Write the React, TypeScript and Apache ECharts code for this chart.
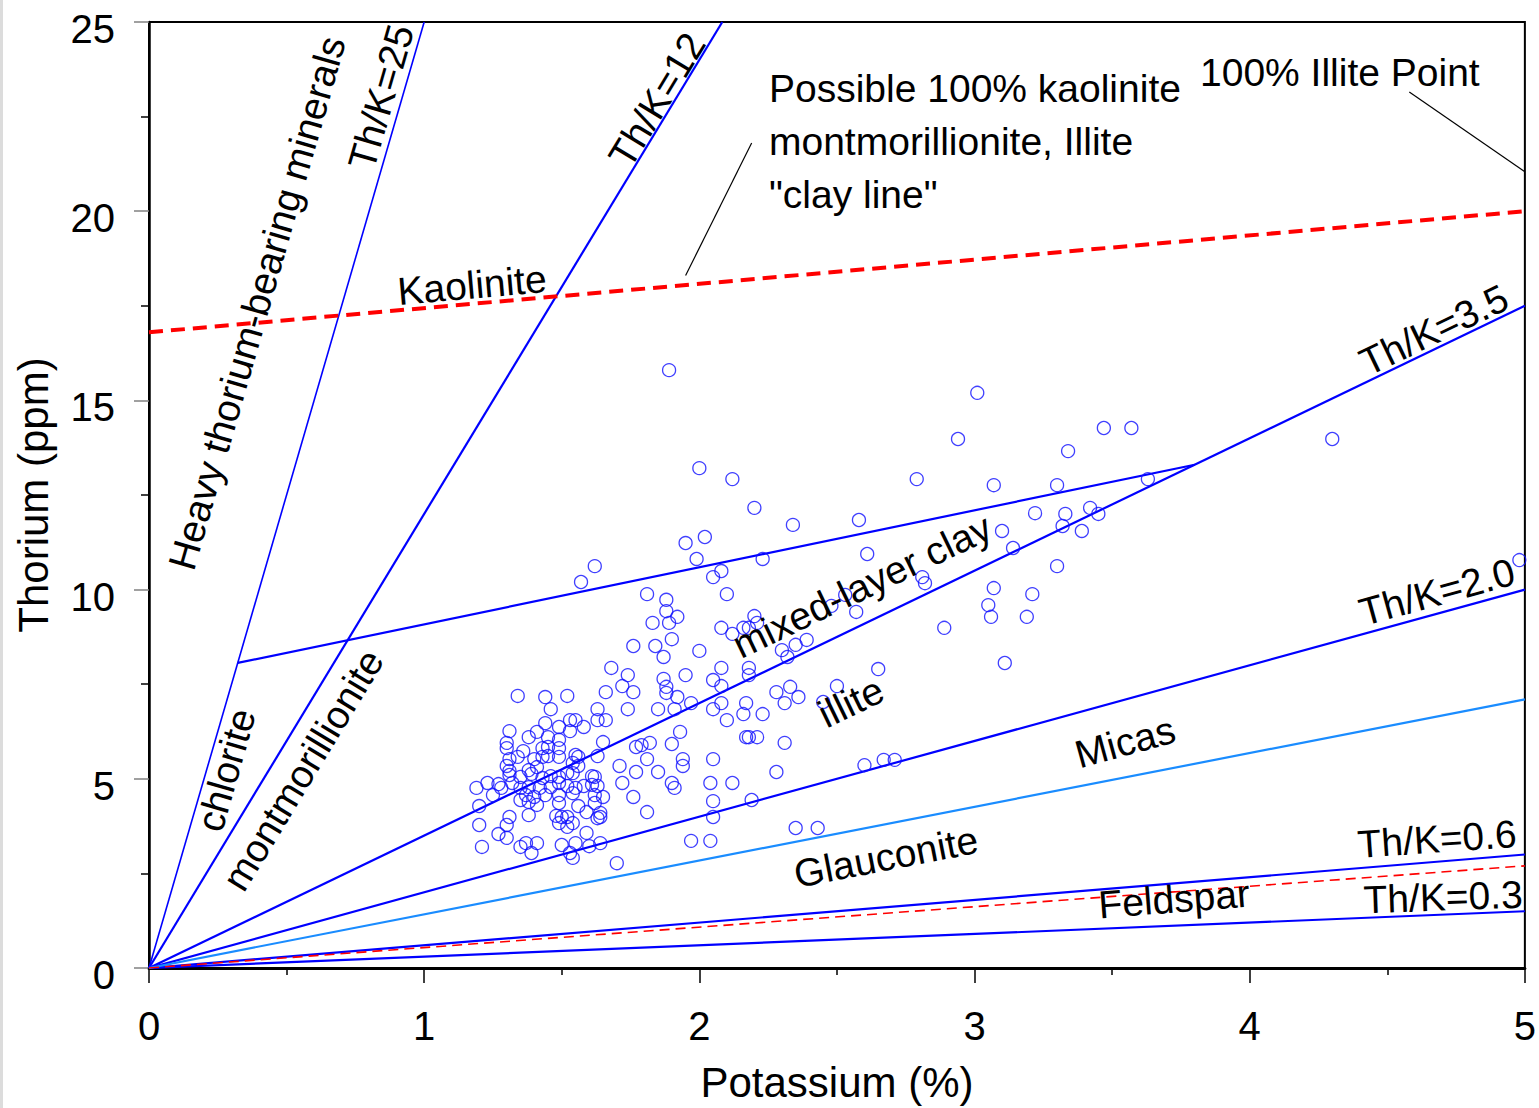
import React, { useEffect, useRef } from "react";
import * as echarts from "echarts";

// Sample measurements: potassium (%) and thorium (ppm)
const potassium: number[] = [
  1.34, 1.44, 1.52, 1.66, 1.72, 1.76, 1.46, 1.63, 1.74, 1.44, 1.49, 1.53, 1.55, 1.58, 1.63, 1.66,
  1.31, 1.38, 1.41, 1.45, 1.49, 1.53, 1.65, 1.30, 1.30, 1.36, 1.43, 1.45, 1.49, 1.31, 1.34, 1.40,
  1.43, 1.45, 1.49, 1.55, 1.56, 1.63, 1.77, 1.30, 1.31, 1.38, 1.41, 1.54, 1.56, 1.71, 1.31, 1.35,
  1.39, 1.43, 1.46, 1.49, 1.52, 1.54, 1.61, 1.62, 1.77, 1.19, 1.23, 1.27, 1.28, 1.32, 1.35, 1.38,
  1.42, 1.46, 1.49, 1.52, 1.55, 1.58, 1.61, 1.63, 1.72, 1.25, 1.37, 1.40, 1.44, 1.49, 1.54, 1.62,
  1.65, 1.76, 1.20, 1.35, 1.38, 1.41, 1.49, 1.56, 1.62, 1.59, 1.64, 1.38, 1.31, 1.48, 1.50, 1.52,
  1.63, 1.64, 1.20, 1.30, 1.49, 1.52, 1.54, 1.27, 1.30, 1.59, 1.21, 1.37, 1.41, 1.50, 1.55, 1.60,
  1.64, 1.35, 1.39, 1.53, 1.54, 1.70,
  1.62, 1.99, 2.23, 2.05, 2.08, 2.10, 1.57, 1.81, 1.88, 1.88, 1.92, 1.83, 1.89, 2.20, 2.21, 2.08,
  2.12, 2.16, 2.18, 1.76, 1.84, 1.90, 1.87, 2.00, 1.68, 1.74, 1.95, 2.08, 2.18, 2.18, 1.87, 1.88,
  1.88, 1.92, 2.05, 2.08, 1.85, 1.91, 1.97, 2.08, 2.05, 2.17, 2.16, 2.23, 2.10, 2.28, 1.93, 1.79,
  1.82, 1.90, 2.17, 2.18, 2.21, 1.81, 1.94, 1.94, 2.05, 1.85, 2.28, 1.90, 1.91, 2.04, 2.12, 1.81,
  2.05, 2.05, 2.19, 1.97, 2.04,
  2.00, 2.12, 2.20, 2.34, 2.58, 1.95, 2.02, 2.48, 2.53, 2.57, 2.30, 2.32, 2.35, 2.39, 2.33, 2.36,
  2.31, 2.50, 2.45, 2.31, 2.35, 2.43,
  3.01, 2.94, 2.79, 3.07, 3.22, 3.10, 3.14, 2.61, 2.81, 2.82, 3.07, 3.21, 3.05, 3.06, 3.19, 2.89,
  3.11, 2.65, 2.60, 2.67, 2.71,
  3.47, 3.57, 3.34, 3.63, 3.30, 3.33, 3.42, 3.45, 3.32, 3.39, 3.30,
  4.30, 4.98, 1.89,
];

const thorium: number[] = [
  7.19, 7.16, 7.19, 7.29, 7.45, 7.29, 6.84, 6.84, 6.84, 6.47, 6.37, 6.55, 6.55, 6.37, 6.55, 6.55,
  6.26, 6.10, 6.24, 6.10, 6.03, 6.26, 5.97, 5.95, 5.81, 5.73, 5.81, 5.84, 5.81, 5.52, 5.58, 5.52,
  5.58, 5.60, 5.58, 5.63, 5.58, 5.60, 5.84, 5.34, 5.21, 5.23, 5.31, 5.42, 5.34, 5.34, 5.10, 5.05,
  5.13, 5.02, 5.07, 5.05, 5.15, 5.15, 5.07, 5.05, 5.18, 4.76, 4.89, 4.86, 4.76, 4.89, 4.76, 4.78,
  4.76, 4.78, 4.89, 4.81, 4.76, 4.81, 4.84, 4.81, 4.89, 4.57, 4.57, 4.52, 4.57, 4.57, 4.62, 4.57,
  4.52, 4.52, 4.28, 4.44, 4.39, 4.31, 4.36, 4.28, 4.36, 4.12, 4.10, 4.04, 3.99, 4.02, 3.99, 3.99,
  3.96, 3.99, 3.78, 3.78, 3.83, 3.73, 3.83, 3.54, 3.44, 3.57, 3.20, 3.30, 3.30, 3.25, 3.30, 3.22,
  3.30, 3.20, 3.04, 3.04, 2.91, 2.77,
  10.62, 10.81, 10.81, 10.33, 10.49, 9.88, 10.20, 9.88, 9.73, 9.43, 9.28, 9.12, 9.12, 9.30, 9.12, 8.99,
  8.83, 8.99, 8.99, 8.51, 8.51, 8.69, 8.22, 8.38, 7.93, 7.74, 7.74, 7.93, 7.93, 7.74, 7.64, 7.43,
  7.27, 7.16, 7.61, 7.45, 6.84, 6.84, 7.00, 7.00, 6.84, 7.00, 6.71, 6.71, 6.55, 7.29, 6.24, 5.89,
  5.95, 5.92, 6.10, 6.10, 6.10, 5.52, 5.52, 5.34, 5.52, 5.18, 5.18, 4.89, 4.76, 4.89, 4.89, 4.12,
  4.41, 3.99, 4.44, 3.36, 3.36,
  13.21, 12.92, 12.16, 11.71, 11.84, 11.23, 11.39, 9.57, 9.86, 9.41, 8.40, 8.22, 8.54, 8.67, 7.43, 7.16,
  7.00, 7.45, 7.03, 5.95, 3.70, 3.70,
  15.20, 13.98, 12.92, 12.76, 12.02, 11.55, 11.10, 10.94, 10.33, 10.17, 10.04, 9.88, 9.59, 9.28, 9.28, 8.99,
  8.06, 7.90, 5.36, 5.50, 5.50,
  14.27, 14.27, 13.66, 12.92, 12.76, 12.00, 12.16, 12.00, 11.68, 11.55, 10.62,
  13.98, 10.78, 15.80,
];

// Th/K boundary ratios written on the diagram
const ratioValues = [25, 12, 3.5, 2.0, 0.6, 0.3];
// Unlabelled boundaries
const micaGlauconiteRatio = 1.42;
const feldsparRatio = 0.54;
// Kaolinite / montmorillonite / illite "clay line"
const kaoliniteK = [0, 5];
const kaoliniteTh = [16.8, 20.0];
// Upper edge of the mixed-layer clay field: from the Th/K=25 line to the Th/K=3.5 line
const mixedLayerK = [0.3225, 3.8];
// Leader lines
const clayLeaderK = [2.19, 1.95];
const clayLeaderTh = [21.8, 18.3];
const illiteLeaderK = [4.58, 5.0];
const illiteLeaderTh = [23.15, 21.04];

const K_MAX = 5;
const TH_MAX = 25;

const FONT_FAMILY = '"Liberation Sans", Arial, Helvetica, sans-serif';
const LABEL_FONT = `39px ${FONT_FAMILY}`;
const BLUE = "#0000ff";

function ratioLine(r: number): number[][] {
  const kEnd = Math.min(K_MAX, TH_MAX / r);
  return [
    [0, 0],
    [kEnd, r * kEnd],
  ];
}

function lineSeries(data: number[][], color: string, width: number, type: any = "solid", z = 2) {
  return {
    type: "line",
    data,
    symbol: "none",
    silent: true,
    z,
    lineStyle: { color, width, type },
    emphasis: { disabled: true },
  };
}

// Text annotations in screen pixels: centre point and rotation (degrees, counter-clockwise)
const annotations = [
  { text: "Heavy thorium-bearing minerals", x: 257, y: 303, angle: 74 },
  { text: "Th/K=25", x: 381, y: 97, angle: 74 },
  { text: "Th/K=12", x: 657, y: 100, angle: 58.8 },
  { text: "Kaolinite", x: 472, y: 285, angle: 5 },
  { text: "mixed-layer clay", x: 862, y: 586, angle: 25.7 },
  { text: "illite", x: 851, y: 702, angle: 25.7 },
  { text: "Micas", x: 1125, y: 742, angle: 15.4 },
  { text: "Glauconite", x: 886, y: 857, angle: 11 },
  { text: "Feldspar", x: 1174, y: 899, angle: 4.5 },
  { text: "Th/K=3.5", x: 1434, y: 330, angle: 25.7 },
  { text: "Th/K=2.0", x: 1437, y: 592, angle: 15.4 },
  { text: "Th/K=0.6", x: 1437, y: 839, angle: 4 },
  { text: "Th/K=0.3", x: 1443, y: 897, angle: 2 },
  { text: "chlorite", x: 226, y: 770, angle: 74 },
  { text: "montmorillionite", x: 303, y: 770, angle: 58.8 },
];

export default function App() {
  const ref = useRef<HTMLDivElement>(null);

  useEffect(() => {
    if (!ref.current) return;
    const chart = echarts.init(ref.current, null, { renderer: "svg" });

    const points = potassium.map((k, i) => [k, thorium[i]]);

    const series: any[] = [];
    ratioValues.forEach((r, i) => {
      series.push(lineSeries(ratioLine(r), BLUE, i === 0 ? 1.6 : 2.2));
    });
    series.push(lineSeries(ratioLine(micaGlauconiteRatio), "#1a8cff", 2.2));
    series.push(lineSeries(ratioLine(feldsparRatio), "#ff0000", 1.6, [10, 6]));
    series.push(
      lineSeries(
        [
          [kaoliniteK[0], kaoliniteTh[0]],
          [kaoliniteK[1], kaoliniteTh[1]],
        ],
        "#ff0000",
        4,
        [14, 8]
      )
    );
    series.push(
      lineSeries(
        [
          [mixedLayerK[0], ratioValues[0] * mixedLayerK[0]],
          [mixedLayerK[1], ratioValues[2] * mixedLayerK[1]],
        ],
        BLUE,
        2.2
      )
    );
    series.push(
      lineSeries(
        [
          [clayLeaderK[0], clayLeaderTh[0]],
          [clayLeaderK[1], clayLeaderTh[1]],
        ],
        "#000000",
        1.2
      )
    );
    series.push(
      lineSeries(
        [
          [illiteLeaderK[0], illiteLeaderTh[0]],
          [illiteLeaderK[1], illiteLeaderTh[1]],
        ],
        "#000000",
        1.2
      )
    );
    series.push({
      type: "scatter",
      data: points,
      symbol: "circle",
      symbolSize: 13,
      z: 3,
      silent: true,
      itemStyle: { color: "rgba(0,0,0,0)", borderColor: "#1010ff", borderWidth: 1.3 },
    });

    const textStyleBase = {
      font: LABEL_FONT,
      fill: "#000",
      align: "center",
      verticalAlign: "middle",
      textAlign: "center",
      textVerticalAlign: "middle",
    };

    const graphic: any[] = [
      { type: "rect", shape: { x: 0, y: 0, width: 3, height: 1108 }, style: { fill: "#dcdcdc" }, silent: true },
      ...annotations.map((a) => ({
        type: "text",
        x: a.x,
        y: a.y,
        rotation: (a.angle * Math.PI) / 180,
        z: 10,
        silent: true,
        style: { ...textStyleBase, text: a.text, x: 0, y: 0 },
      })),
      {
        type: "text",
        x: 769,
        y: 88,
        z: 10,
        silent: true,
        style: {
          text: 'Possible 100% kaolinite\nmontmorillionite, Illite\n"clay line"',
          font: LABEL_FONT,
          fill: "#000",
          lineHeight: 53,
          align: "left",
          textAlign: "left",
          verticalAlign: "middle",
          textVerticalAlign: "middle",
          x: 0,
          y: 53,
        },
      },
      {
        type: "text",
        x: 1200,
        y: 72,
        z: 10,
        silent: true,
        style: {
          text: "100% Illite Point",
          font: LABEL_FONT,
          fill: "#000",
          align: "left",
          textAlign: "left",
          verticalAlign: "middle",
          textVerticalAlign: "middle",
          x: 0,
          y: 0,
        },
      },
    ];

    chart.setOption({
      animation: false,
      backgroundColor: "#ffffff",
      grid: {
        left: 149,
        top: 22,
        width: 1377,
        height: 946,
        show: true,
        borderColor: "#000",
        borderWidth: 2,
        backgroundColor: "rgba(0,0,0,0)",
      },
      xAxis: {
        type: "value",
        min: 0,
        max: K_MAX,
        interval: 1,
        name: "Potassium (%)",
        nameLocation: "middle",
        nameGap: 93,
        nameTextStyle: { fontSize: 42, fontFamily: FONT_FAMILY, color: "#000" },
        axisLine: { show: true, lineStyle: { color: "#000", width: 3 } },
        axisTick: { show: true, length: 15, lineStyle: { color: "#000", width: 1.5 } },
        minorTick: { show: true, splitNumber: 2, length: 7, lineStyle: { color: "#000", width: 1.5 } },
        axisLabel: { fontSize: 40, fontFamily: FONT_FAMILY, color: "#000", margin: 38 },
        splitLine: { show: false },
        minorSplitLine: { show: false },
      },
      yAxis: {
        type: "value",
        min: 0,
        max: TH_MAX,
        interval: 5,
        name: "Thorium (ppm)",
        nameLocation: "middle",
        nameGap: 95,
        nameTextStyle: { fontSize: 42, fontFamily: FONT_FAMILY, color: "#000" },
        axisLine: { show: true, lineStyle: { color: "#000", width: 2.5 } },
        axisTick: { show: true, length: 15, lineStyle: { color: "#808080", width: 1.5 } },
        minorTick: { show: true, splitNumber: 2, length: 8, lineStyle: { color: "#000", width: 1.5 } },
        axisLabel: {
          color: "#000",
          margin: 34,
          formatter: "{v|{value}}",
          rich: {
            v: { fontSize: 40, fontFamily: FONT_FAMILY, color: "#000", padding: [14, 0, 0, 0] },
          },
        },
        splitLine: { show: false },
        minorSplitLine: { show: false },
      },
      series,
      graphic,
    });

    return () => chart.dispose();
  }, []);

  return (
    <div
      ref={ref}
      style={{ position: "fixed", left: 0, top: 0, width: 1539, height: 1108, background: "#fff" }}
    />
  );
}
